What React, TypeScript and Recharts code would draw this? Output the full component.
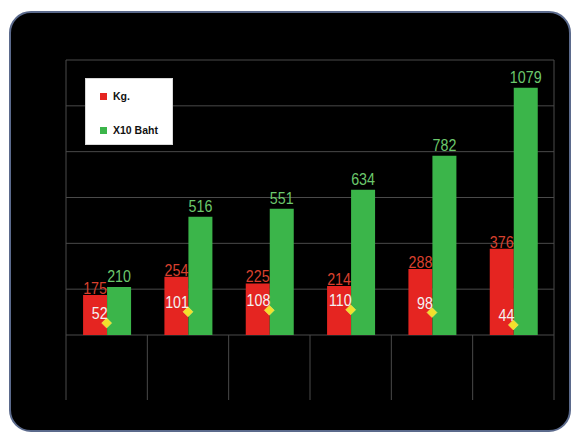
import React from 'react';
import { ComposedChart, Bar, Line, XAxis, YAxis, CartesianGrid, LabelList, Legend } from 'recharts';

const categories = ['1', '2', '3', '4', '5', '6'];
const kgValues = [175, 254, 225, 214, 288, 376];
const bahtValues = [210, 516, 551, 634, 782, 1079];
const markerValues = [52, 101, 108, 110, 98, 44];
const yTicks = [0, 200, 400, 600, 800, 1000, 1200];

const data = categories.map((c, i) => ({
  name: c,
  kg: kgValues[i],
  baht: bahtValues[i],
  marker: markerValues[i],
}));

const NUM_FONT = '"Liberation Sans", Arial, sans-serif';
const GRID = '#4a4a4a';
const SQUEEZE = 0.84;

const CondText = ({ x, y, anchor, fill, children }: any) => (
  <text
    transform={`translate(${x},${y}) scale(${SQUEEZE},1)`}
    textAnchor={anchor}
    fill={fill}
    fontSize={17}
    fontFamily={NUM_FONT}
  >
    {children}
  </text>
);

const makeBarLabel = (fill: string, gap: number) => (props: any) => {
  const { x, y, width, value } = props;
  return (
    <CondText x={Number(x) + Number(width) / 2} y={Number(y) - gap} anchor="middle" fill={fill}>
      {value}
    </CondText>
  );
};

const KgLabel = makeBarLabel('#d8402e', 1);
const BahtLabel = makeBarLabel('#6cc86c', 5);

const Diamond = (props: any) => {
  const { cx, cy } = props;
  if (cx == null || cy == null) return null;
  const s = 5;
  return (
    <path
      d={`M${cx},${cy - s} L${cx + s},${cy} L${cx},${cy + s} L${cx - s},${cy} Z`}
      fill="#f2e02c"
      stroke="#f8ee70"
      strokeWidth={0.5}
    />
  );
};

const MarkerLabel = (props: any) => {
  const { x, y, value } = props;
  return (
    <CondText x={Number(x) + 1} y={Number(y) - 4} anchor="end" fill="#f2f2f2">
      {value}
    </CondText>
  );
};

const BoundaryTick = (props: any) => {
  const { x, y, payload, index, visibleTicksCount, width } = props;
  const half =
    payload && typeof payload.offset === 'number' && payload.offset > 0
      ? payload.offset
      : Number(width) / Number(visibleTicksCount) / 2;
  const left = Number(x) - half;
  const right = Number(x) + half;
  const top = Number(y);
  return (
    <g>
      <line x1={left} y1={top} x2={left} y2={top + 65} stroke={GRID} strokeWidth={1} />
      {index === visibleTicksCount - 1 ? (
        <line x1={right} y1={top} x2={right} y2={top + 65} stroke={GRID} strokeWidth={1} />
      ) : null}
    </g>
  );
};

const NoTick = () => <g />;

const LegendBox = () => (
  <div
    style={{
      width: 88,
      height: 67,
      background: '#ffffff',
      border: '1px solid #d8d8d8',
      boxSizing: 'border-box',
      position: 'relative',
      fontFamily: '"Liberation Sans", Arial, sans-serif',
      fontWeight: 'bold',
      fontSize: 10.5,
      color: '#111',
    }}
  >
    {[
      { label: 'Kg.', color: '#e52521', top: 12 },
      { label: 'X10 Baht', color: '#3bb54a', top: 46 },
    ].map((it) => (
      <div key={it.label} style={{ position: 'absolute', left: 14, top: it.top, display: 'flex', alignItems: 'center', height: 11 }}>
        <span style={{ width: 7, height: 7, background: it.color, display: 'inline-block', marginRight: 6 }} />
        <span style={{ lineHeight: '11px' }}>{it.label}</span>
      </div>
    ))}
  </div>
);

export default function App() {
  return (
    <div style={{ position: 'absolute', left: 0, top: 0, width: 574, height: 434, background: '#ffffff', overflow: 'hidden' }}>
      <div
        style={{
          position: 'absolute',
          left: 9,
          top: 11,
          width: 562,
          height: 421,
          background: '#000000',
          border: '2px solid #5b6a8c',
          borderRadius: 22,
          boxSizing: 'border-box',
        }}
      />
      <div style={{ position: 'absolute', left: 0, top: 0 }}>
        <ComposedChart
          width={574}
          height={434}
          data={data}
          margin={{ top: 60, right: 19, bottom: 98, left: 65 }}
          barCategoryGap="21%"
          barGap={0}
        >
          <CartesianGrid vertical={false} stroke={GRID} strokeWidth={1} />
          <XAxis
            dataKey="name"
            height={1}
            axisLine={false}
            tickLine={false}
            tickSize={0}
            tickMargin={0}
            interval={0}
            tick={<BoundaryTick />}
          />
          <YAxis
            width={1}
            domain={[0, 1200]}
            ticks={yTicks}
            tick={<NoTick />}
            tickLine={false}
            axisLine={{ stroke: GRID, strokeWidth: 1 }}
          />
          <YAxis
            yAxisId="right"
            orientation="right"
            width={1}
            domain={[0, 1200]}
            ticks={yTicks}
            tick={<NoTick />}
            tickLine={false}
            axisLine={{ stroke: GRID, strokeWidth: 1 }}
          />
          <Legend
            layout="vertical"
            align="center"
            verticalAlign="middle"
            wrapperStyle={{ left: 85, top: 78, width: 88, height: 67 }}
            content={() => <LegendBox />}
          />
          <Bar dataKey="kg" name="Kg." fill="#e52521" isAnimationActive={false}>
            <LabelList dataKey="kg" content={<KgLabel />} />
          </Bar>
          <Bar dataKey="baht" name="X10 Baht" fill="#3bb54a" isAnimationActive={false}>
            <LabelList dataKey="baht" content={<BahtLabel />} />
          </Bar>
          <Line
            dataKey="marker"
            stroke="none"
            dot={<Diamond />}
            activeDot={false}
            legendType="none"
            isAnimationActive={false}
          >
            <LabelList dataKey="marker" content={<MarkerLabel />} />
          </Line>
        </ComposedChart>
      </div>
    </div>
  );
}
